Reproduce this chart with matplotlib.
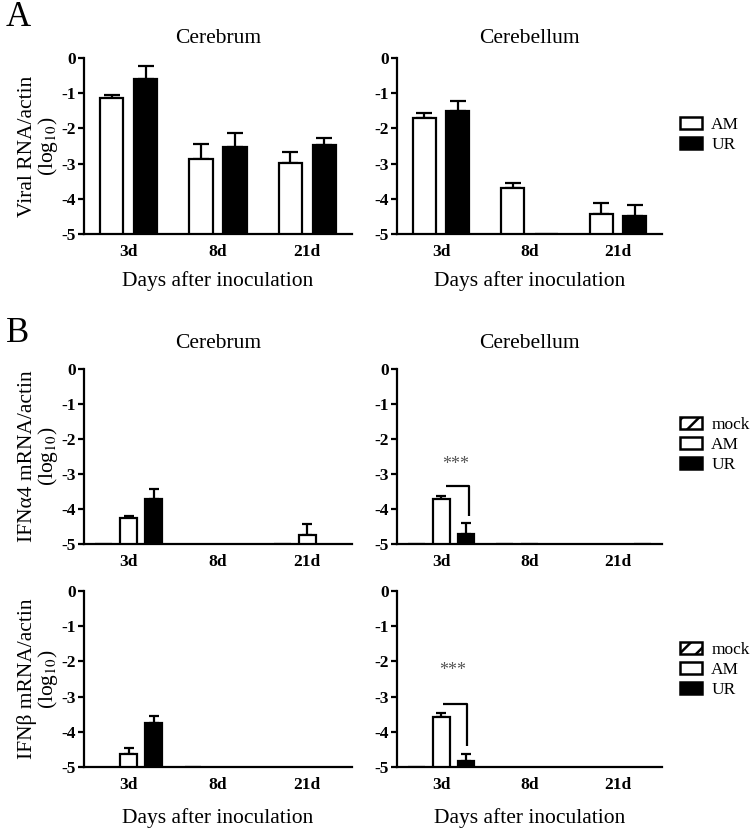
import numpy as np
import matplotlib
matplotlib.use('Agg')
import matplotlib.pyplot as plt
from matplotlib.patches import Patch

plt.rcParams['font.family'] = ['Liberation Serif', 'DejaVu Serif']
plt.rcParams['mathtext.fontset'] = 'stix'
plt.rcParams['axes.unicode_minus'] = False
plt.rcParams['hatch.linewidth'] = 1.8

nan = np.nan
days = ['3d', '8d', '21d']
ytick_labels = ['0', '-1', '-2', '-3', '-4', '-5']

# A: viral RNA (log10), bars start at -5
viral_cerebrum_am = [-1.13, -2.88, -2.98]
viral_cerebrum_am_err = [0.08, 0.44, 0.30]
viral_cerebrum_ur = [-0.61, -2.54, -2.47]
viral_cerebrum_ur_err = [0.38, 0.40, 0.21]
viral_cerebellum_am = [-1.71, -3.68, -4.43]
viral_cerebellum_am_err = [0.14, 0.14, 0.30]
viral_cerebellum_ur = [-1.50, -5.0, -4.48]
viral_cerebellum_ur_err = [0.28, 0.0, 0.30]

# B: IFN alpha4
ifna_cerebrum_mock = [-5.0, nan, -5.0]
ifna_cerebrum_am = [-4.25, nan, -4.74]
ifna_cerebrum_am_err = [0.05, 0.0, 0.30]
ifna_cerebrum_ur = [-3.70, nan, nan]
ifna_cerebrum_ur_err = [0.26, 0.0, 0.0]
ifna_cerebellum_mock = [-5.0, -5.0, nan]
ifna_cerebellum_am = [-3.72, -5.0, nan]
ifna_cerebellum_am_err = [0.08, 0.0, 0.0]
ifna_cerebellum_ur = [-4.70, nan, -5.0]
ifna_cerebellum_ur_err = [0.31, 0.0, 0.0]

# B: IFN beta
ifnb_cerebrum_mock = [nan, -5.0, nan]
ifnb_cerebrum_am = [-4.63, nan, nan]
ifnb_cerebrum_am_err = [0.16, 0.0, 0.0]
ifnb_cerebrum_ur = [-3.76, nan, nan]
ifnb_cerebrum_ur_err = [0.22, 0.0, 0.0]
ifnb_cerebellum_mock = [-5.0, nan, nan]
ifnb_cerebellum_am = [-3.57, nan, nan]
ifnb_cerebellum_am_err = [0.10, 0.0, 0.0]
ifnb_cerebellum_ur = [-4.84, nan, nan]
ifnb_cerebellum_ur_err = [0.20, 0.0, 0.0]

LABEL_FS = 15.5
TICK_FS = 12.5


def style_axes(ax):
  for side in ['top', 'right']:
    ax.spines[side].set_visible(False)
  for side in ['left', 'bottom']:
    ax.spines[side].set_linewidth(1.6)
  ax.set_ylim(-5, 0)
  ax.set_xlim(-0.5, 2.5)
  ax.set_yticks([0, -1, -2, -3, -4, -5])
  ax.set_yticklabels(ytick_labels, fontweight='bold', fontsize=TICK_FS)
  ax.set_xticks([0, 1, 2])
  ax.set_xticklabels(days, fontweight='bold', fontsize=TICK_FS)
  ax.tick_params(axis='y', direction='out', length=4, width=1.6, pad=2)
  ax.tick_params(axis='x', length=0, pad=7)


def draw_bars(ax, vals, errs, offset, width, color, hatch, capsize):
  x = np.arange(len(days)) + offset
  v = np.array(vals, dtype=float)
  ax.bar(x, v + 5, bottom=-5, width=width, color=color, edgecolor='black',
         linewidth=1.6, hatch=hatch, zorder=3)
  if errs is None:
    return
  for xi, vi, ei in zip(x, v, errs):
    if np.isnan(vi) or ei <= 0:
      continue
    ax.errorbar(xi, vi, yerr=[[0], [ei]], fmt='none', ecolor='black',
                elinewidth=1.6, capsize=capsize, capthick=1.6, zorder=2)


def bracket(ax, x0, x1, ytop, ybot, ystar):
  ax.plot([x0, x1, x1], [ytop, ytop, ybot], color='black', lw=1.6,
          solid_capstyle='butt', zorder=4)
  ax.text((x0 + x1) / 2 - 0.02, ystar, '***', ha='center', va='center',
          fontsize=13, color='#555555')


fig = plt.figure(figsize=(7.5, 8.3), dpi=100)
W, H = 750.0, 830.0


def make_ax(x0, x1, ytop, ybot):
  return fig.add_axes([x0 / W, 1 - ybot / H, (x1 - x0) / W, (ybot - ytop) / H])


ax_a1 = make_ax(84, 352, 58, 234)
ax_a2 = make_ax(397, 662, 58, 234)
ax_b1 = make_ax(84, 352, 369, 544)
ax_b2 = make_ax(397, 662, 369, 544)
ax_b3 = make_ax(84, 352, 591, 767)
ax_b4 = make_ax(397, 662, 591, 767)

# panel A
for ax, am, ame, ur, ure in [
    (ax_a1, viral_cerebrum_am, viral_cerebrum_am_err, viral_cerebrum_ur, viral_cerebrum_ur_err),
    (ax_a2, viral_cerebellum_am, viral_cerebellum_am_err, viral_cerebellum_ur, viral_cerebellum_ur_err)]:
  style_axes(ax)
  draw_bars(ax, am, ame, -0.19, 0.26, 'white', None, 6)
  draw_bars(ax, ur, ure, 0.19, 0.26, 'black', None, 6)
  ax.set_xlabel('Days after inoculation', fontsize=LABEL_FS, labelpad=8)

# panel B
panels_b = [
  (ax_b1, ifna_cerebrum_mock, ifna_cerebrum_am, ifna_cerebrum_am_err, ifna_cerebrum_ur, ifna_cerebrum_ur_err),
  (ax_b2, ifna_cerebellum_mock, ifna_cerebellum_am, ifna_cerebellum_am_err, ifna_cerebellum_ur, ifna_cerebellum_ur_err),
  (ax_b3, ifnb_cerebrum_mock, ifnb_cerebrum_am, ifnb_cerebrum_am_err, ifnb_cerebrum_ur, ifnb_cerebrum_ur_err),
  (ax_b4, ifnb_cerebellum_mock, ifnb_cerebellum_am, ifnb_cerebellum_am_err, ifnb_cerebellum_ur, ifnb_cerebellum_ur_err),
]
for ax, mock, am, ame, ur, ure in panels_b:
  style_axes(ax)
  draw_bars(ax, mock, None, -0.28, 0.19, 'white', '//', 3.5)
  draw_bars(ax, am, ame, 0.0, 0.19, 'white', None, 3.5)
  draw_bars(ax, ur, ure, 0.28, 0.19, 'black', None, 3.5)

ax_b3.set_xlabel('Days after inoculation', fontsize=LABEL_FS, labelpad=11)
ax_b4.set_xlabel('Days after inoculation', fontsize=LABEL_FS, labelpad=11)

bracket(ax_b2, 0.05, 0.32, -3.35, -4.20, -2.72)
bracket(ax_b4, 0.02, 0.29, -3.21, -4.39, -2.25)

# y labels
ylab_kw = dict(fontsize=LABEL_FS, labelpad=1, linespacing=0.9)
ax_a1.set_ylabel('Viral RNA/actin\n(log$_{10}$)', **ylab_kw)
ax_b1.set_ylabel('IFN\u03b14 mRNA/actin\n(log$_{10}$)', **ylab_kw)
ax_b3.set_ylabel('IFN\u03b2 mRNA/actin\n(log$_{10}$)', **ylab_kw)

# titles
ax_a1.set_title('Cerebrum', fontsize=LABEL_FS, pad=11)
ax_a2.set_title('Cerebellum', fontsize=LABEL_FS, pad=11)
ax_b1.set_title('Cerebrum', fontsize=LABEL_FS, pad=15)
ax_b2.set_title('Cerebellum', fontsize=LABEL_FS, pad=15)

fig.text(6 / W, 1 - 18 / H, 'A', fontsize=25, va='center', ha='left')
fig.text(6 / W, 1 - 333 / H, 'B', fontsize=25, va='center', ha='left')

# legends
h_am = Patch(facecolor='white', edgecolor='black', linewidth=1.8, label='AM')
h_ur = Patch(facecolor='black', edgecolor='black', linewidth=1.8, label='UR')
h_mock = Patch(facecolor='white', edgecolor='black', linewidth=1.8, hatch='//', label='mock')
leg_kw = dict(frameon=False, fontsize=12.5, handlelength=1.25, handleheight=0.7,
              handletextpad=0.55, labelspacing=0.22, borderpad=0, borderaxespad=0,
              loc='upper left', bbox_transform=fig.transFigure)
ax_a2.legend(handles=[h_am, h_ur], bbox_to_anchor=(680 / W, 1 - 117 / H), **leg_kw)
ax_b2.legend(handles=[h_mock, h_am, h_ur], bbox_to_anchor=(680 / W, 1 - 417 / H), **leg_kw)
ax_b4.legend(handles=[h_mock, h_am, h_ur], bbox_to_anchor=(680 / W, 1 - 642 / H), **leg_kw)

plt.savefig('out.png', dpi=100)
plt.close()
